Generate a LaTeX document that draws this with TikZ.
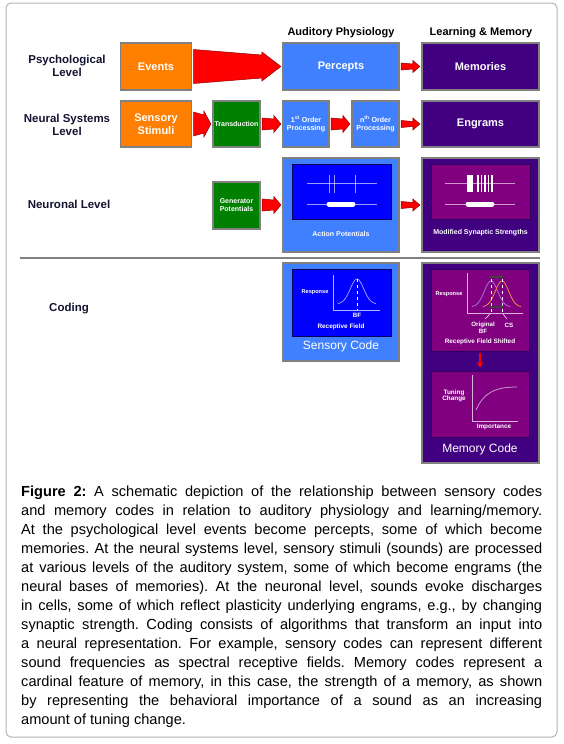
\documentclass[tikz,border=0pt]{standalone}
\usepackage{fontspec}
\setmainfont{Liberation Sans}
\setsansfont{Liberation Sans}
\usetikzlibrary{calc,positioning,arrows.meta}

\definecolor{evtorange}{RGB}{255,128,0}
\definecolor{physblue}{RGB}{64,128,255}
\definecolor{memviolet}{RGB}{64,0,128}
\definecolor{transgreen}{RGB}{0,128,0}
\definecolor{deepblue}{RGB}{0,0,255}
\definecolor{deepmag}{RGB}{128,0,128}
\definecolor{framegray}{RGB}{128,128,128}
\definecolor{labelnavy}{RGB}{20,20,50}
\definecolor{bfpurple}{RGB}{165,115,225}
\definecolor{csorange}{RGB}{225,150,60}

\tikzset{lvlbox/.style={draw=framegray, line width=1.2, inner sep=1, text=white, align=center},
evtbox/.style={lvlbox, fill=evtorange, font=\bfseries\fontsize{11}{12.5}\selectfont},
physbox/.style={lvlbox, fill=physblue},
membox/.style={lvlbox, fill=memviolet},
greenbox/.style={lvlbox, fill=transgreen},
innerblue/.style={draw=blue!35!black, line width=0.8, fill=deepblue},
innermag/.style={draw=memviolet!70!black, line width=0.8, fill=deepmag},
levellabel/.style={font=\bfseries\fontsize{11.5}{13}\selectfont, text=labelnavy, align=center},
heading/.style={font=\bfseries\fontsize{11}{13}\selectfont},
bigtext/.style={font=\bfseries\fontsize{11}{12.5}\selectfont},
smalltext/.style={text=white, font=\bfseries\fontsize{7}{8}\selectfont, align=center, inner sep=0},
tinytext/.style={text=white, font=\bfseries\fontsize{6.2}{6.6}\selectfont, align=center, inner sep=0},
codetext/.style={text=white, font=\fontsize{12}{14}\selectfont, inner sep=0},
arrowfill/.style={fill=red, draw=black!45!red, line width=0.5},
trace/.style={draw=white, draw opacity=0.6, line width=0.8},
graphaxis/.style={draw=white, draw opacity=0.7, line width=0.7},
captext/.style={text width=521pt, align=justify, inner sep=0, font=\fontsize{14.6}{19}\selectfont}}

% block arrow from #1 to #2: tail half, neck half, head half, head length
\newcommand{\redarrow}[6]{%
 \filldraw[arrowfill] let \p1=(#1.east), \p2=(#2.west) in
 (\x1+1.5pt,\y2+#3) -- (\x2-1.5pt-#6,\y2+#4) -- (\x2-1.5pt-#6,\y2+#5) -- (\x2-1.5pt,\y2)
 -- (\x2-1.5pt-#6,\y2-#5) -- (\x2-1.5pt-#6,\y2-#4) -- (\x1+1.5pt,\y2-#3) -- cycle;}

\begin{document}
\begin{tikzpicture}[x=1pt,y=-1pt]
 \useasboundingbox (0,0) rectangle (564,744);
 %Outer frame
 \draw[framegray!60, line width=1, rounded corners=5] (6,3) rectangle (557,737);

 %Column headings
 \node[heading] (audhead) at (341,33) {Auditory Physiology};
 \node[heading] (memhead) at (481,33) {Learning \& Memory};

 %Level labels
 \node[levellabel] (psylabel) at (67,66) {Psychological\\Level};
 \node[levellabel] (neurlabel) at (67,124.5) {Neural Systems\\Level};
 \node[levellabel] (cellabel) at (69,204) {Neuronal Level};
 \node[levellabel] (codelabel) at (69,309) {Coding};

 %Psychological level
 \node[evtbox, minimum width=71, minimum height=47] (events) at (156,66.5) {Events};
 \node[physbox, bigtext, minimum width=116, minimum height=47] (percepts) at (341,66.5) {Percepts};
 \node[membox, bigtext, minimum width=117, minimum height=47] (memories) at (480.5,66.5) {Memories};
 \redarrow{events}{percepts}{17pt}{11.5pt}{14.5pt}{19pt}
 \redarrow{percepts}{memories}{3.5pt}{2.5pt}{6pt}{7pt}

 %Neural systems level
 \node[evtbox, minimum width=71, minimum height=46] (stimuli) at (156,124) {Sensory\\Stimuli};
 \node[greenbox, smalltext, minimum width=47, minimum height=46] (transduct) at (236.5,124) {Transduction};
 \node[physbox, smalltext, font=\bfseries\fontsize{7.1}{8}\selectfont, minimum width=46, minimum height=46] (firstord) at (306,124) {1\textsuperscript{st} Order\\Processing};
 \node[physbox, smalltext, font=\bfseries\fontsize{7.1}{8}\selectfont, minimum width=47, minimum height=46] (nthord) at (375.5,124) {n\textsuperscript{th} Order\\Processing};
 \node[membox, bigtext, minimum width=117, minimum height=46] (engrams) at (480.5,124) {Engrams};
 \redarrow{stimuli}{transduct}{12pt}{9pt}{13pt}{7pt}
 \redarrow{transduct}{firstord}{6pt}{5pt}{8.5pt}{7pt}
 \redarrow{firstord}{nthord}{6pt}{5pt}{8.5pt}{7pt}
 \redarrow{nthord}{engrams}{3.5pt}{2.5pt}{6pt}{7pt}

 %Neuronal level
 \node[greenbox, smalltext, minimum width=47, minimum height=47] (generator) at (236.5,205.5) {Generator\\Potentials};
 \node[physbox, minimum width=116, minimum height=94] (actpot) at (341,205) {};
 \node[innerblue, minimum width=99, minimum height=55] (apwin) at (341.5,191.5) {};
 \node[smalltext] (aplabel) at (341,234) {Action Potentials};
 \node[membox, minimum width=117, minimum height=94] (synstr) at (480.5,205) {};
 \node[innermag, minimum width=99, minimum height=55] (sswin) at (480.5,191.5) {};
 \node[smalltext] (sslabel) at (480.5,233) {Modified Synaptic Strengths};
 \redarrow{generator}{actpot}{6pt}{5pt}{8.5pt}{7pt}
 \redarrow{actpot}{synstr}{3.5pt}{2.5pt}{6pt}{7pt}

 % spike trains
 \draw[trace] (307,183) -- (377,183);
 \foreach \t in {329,334,355}
  \draw[trace] (\t,175) -- (\t,193);
 \draw[trace] (307,204) -- (377,204);
 \draw[white, line width=5, line cap=round] (329,204) -- (353,204);

 \draw[trace] (445,183) -- (515,183);
 \fill[white] (467,175) rectangle (473,192);
 \foreach \t in {478,481.5,485,488.5,492}
  \draw[white, line width=1.2] (\t,175) -- (\t,192);
 \draw[trace] (445,204) -- (515,204);
 \draw[white, line width=5, line cap=round] (468,204) -- (492,204);

 %Divider
 \draw[framegray, line width=1.2] (20,258) -- (540,258);

 %Coding
 \node[physbox, minimum width=116, minimum height=98] (senscode) at (341,312) {};
 \node[innerblue, minimum width=99, minimum height=67] (rfwin) at (341.5,302.5) {};
 \node[codetext] (senslabel) at (341,346) {Sensory Code};
 \node[tinytext, font=\bfseries\fontsize{5.6}{6}\selectfont] (resp1) at (315,292) {Response};
 \draw[graphaxis] (333,275) -- (333,310) -- (380,310);
 \draw[trace, domain=338:376, samples=40, smooth] plot (\x, {304-25*exp(-((\x-357)/9.5)^2)});
 \draw[white, dashed, line width=0.6] (357,279) -- (357,310);
 \node[tinytext] (bflabel) at (357,315.5) {BF};
 \node[tinytext, font=\bfseries\fontsize{6.4}{7}\selectfont] (rflabel) at (341,327) {Receptive Field};

 \node[membox, minimum width=117, minimum height=200] (memcode) at (480.5,363) {};
 \node[innermag, minimum width=98, minimum height=82] (shiftwin) at (480,310) {};
 \node[innermag, minimum width=98, minimum height=66] (tunewin) at (480,404) {};
 \node[codetext] (memlabel) at (480,449) {Memory Code};
 \draw[red, line width=1.5, shorten <=2, shorten >=3, -{Triangle[length=5,width=6]}] (shiftwin) -- (tunewin);

 % shifted receptive field
 \node[tinytext, font=\bfseries\fontsize{5.6}{6}\selectfont] (resp2) at (449,294) {Response};
 \draw[graphaxis] (467,273) -- (467,313) -- (523,313);
 \draw[bfpurple, line width=0.8, domain=472:510, samples=40, smooth] plot (\x, {307-26*exp(-((\x-491)/9.5)^2)});
 \draw[csorange, line width=0.8, domain=483:521, samples=40, smooth] plot (\x, {307-26*exp(-((\x-502)/9.5)^2)});
 \draw[white, dashed, line width=0.6] (491,279) -- (491,313);
 \draw[white, dashed, line width=0.6] (502,279) -- (502,313);
 \draw[black!75, line width=2.2, -{Triangle[length=3,width=5]}] (489,277) -- (504,277);
 \draw[black!75, line width=2.2, -{Triangle[length=3,width=5]}] (489,307) -- (504,307);
 \node[tinytext] (origbf) at (483,328) {Original\\BF};
 \node[tinytext] (cslabel) at (509,325) {CS};
 \draw[white, line width=0.5] (485,319) -- (490,314);
 \draw[white, line width=0.5] (507,319) -- (503,314);
 \node[tinytext, font=\bfseries\fontsize{6.4}{7}\selectfont] (shiftlabel) at (480,342) {Receptive Field Shifted};

 % tuning change
 \node[tinytext, font=\bfseries\fontsize{6.4}{6}\selectfont] (tunelabel) at (454,396) {Tuning\\Change};
 \draw[graphaxis] (472,375) -- (472,421) -- (518,421);
 \draw[trace] (476,410) .. controls (484,392) and (496,387) .. (517,387);
 \node[tinytext, font=\bfseries\fontsize{6.4}{7}\selectfont] (implabel) at (494,427) {Importance};

 %Caption
 \node[captext, anchor=north west] (caption) at (21,486) {\frenchspacing\hyphenpenalty=10000
 \textbf{Figure 2:} A schematic depiction of the relationship between sensory codes\linebreak
 and memory codes in relation to auditory physiology and learning/memory.\linebreak
 At the psychological level events become percepts, some of which become\linebreak
 memories. At the neural systems level, sensory stimuli (sounds) are processed\linebreak
 at various levels of the auditory system, some of which become engrams (the\linebreak
 neural bases of memories). At the neuronal level, sounds evoke discharges\linebreak
 in cells, some of which reflect plasticity underlying engrams, e.g., by changing\linebreak
 synaptic strength. Coding consists of algorithms that transform an input into\linebreak
 a neural representation. For example, sensory codes can represent different\linebreak
 sound frequencies as spectral receptive fields. Memory codes represent a\linebreak
 cardinal feature of memory, in this case, the strength of a memory, as shown\linebreak
 by representing the behavioral importance of a sound as an increasing\linebreak
 amount of tuning change.};
\end{tikzpicture}
\end{document}
